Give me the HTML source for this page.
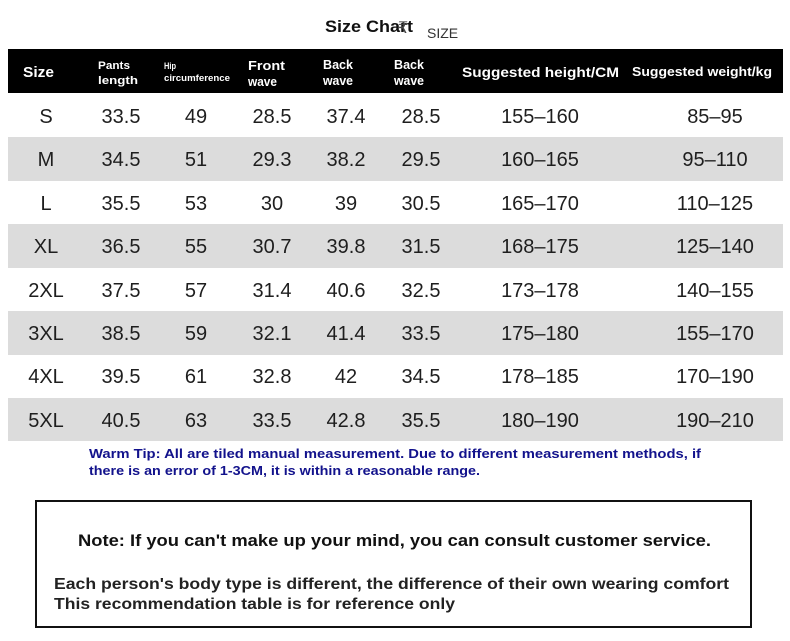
<!DOCTYPE html>
<html><head><meta charset="utf-8"><style>
html,body{margin:0;padding:0;background:#fff;}
svg{display:block;}
.n{font-family:"Liberation Sans",sans-serif;font-size:20px;fill:#1e1e1e;text-anchor:middle;}
.h{font-family:"Liberation Sans",sans-serif;font-weight:bold;fill:#fff;}
.b{font-family:"Liberation Sans",sans-serif;font-weight:bold;}
</style></head><body>
<svg width="790" height="641" viewBox="0 0 790 641">
<rect width="790" height="641" fill="#fff"/>
<text x="325" y="32" class="b" font-size="17" fill="#111" textLength="88" lengthAdjust="spacingAndGlyphs">Size Chart</text>
<text x="398" y="33" font-family="Liberation Sans" font-size="16" fill="#444">₹</text>
<text x="427" y="38" font-family="Liberation Sans" font-size="14" fill="#333">SIZE</text>
<rect x="8" y="49" width="775" height="44" fill="#000"/>
<text x="23" y="77" class="h" font-size="15" textLength="31" lengthAdjust="spacingAndGlyphs">Size</text>
<text x="98" y="69" class="h" font-size="11" textLength="32" lengthAdjust="spacingAndGlyphs">Pants</text>
<text x="98" y="84" class="h" font-size="11" textLength="40" lengthAdjust="spacingAndGlyphs">length</text>
<text x="164" y="69" class="h" font-size="9" textLength="12" lengthAdjust="spacingAndGlyphs">Hip</text>
<text x="164" y="81" class="h" font-size="9" textLength="66" lengthAdjust="spacingAndGlyphs">circumference</text>
<text x="248" y="70" class="h" font-size="13" textLength="37" lengthAdjust="spacingAndGlyphs">Front</text>
<text x="248" y="86" class="h" font-size="13" textLength="29" lengthAdjust="spacingAndGlyphs">wave</text>
<text x="323" y="69" class="h" font-size="13" textLength="30" lengthAdjust="spacingAndGlyphs">Back</text>
<text x="323" y="85" class="h" font-size="13" textLength="30" lengthAdjust="spacingAndGlyphs">wave</text>
<text x="394" y="69" class="h" font-size="13" textLength="30" lengthAdjust="spacingAndGlyphs">Back</text>
<text x="394" y="85" class="h" font-size="13" textLength="30" lengthAdjust="spacingAndGlyphs">wave</text>
<text x="462" y="77" class="h" font-size="14" textLength="157" lengthAdjust="spacingAndGlyphs">Suggested height/CM</text>
<text x="632" y="76" class="h" font-size="13" textLength="140" lengthAdjust="spacingAndGlyphs">Suggested weight/kg</text>
<rect x="8" y="137" width="775" height="44" fill="#dcdcdc"/>
<rect x="8" y="224" width="775" height="44" fill="#dcdcdc"/>
<rect x="8" y="311" width="775" height="44" fill="#dcdcdc"/>
<rect x="8" y="398" width="775" height="43" fill="#dcdcdc"/>
<g class="n">
<text x="46" y="123">S</text><text x="121" y="123">33.5</text><text x="196" y="123">49</text><text x="272" y="123">28.5</text><text x="346" y="123">37.4</text><text x="421" y="123">28.5</text><text x="540" y="123">155–160</text><text x="715" y="123">85–95</text>
<text x="46" y="166">M</text><text x="121" y="166">34.5</text><text x="196" y="166">51</text><text x="272" y="166">29.3</text><text x="346" y="166">38.2</text><text x="421" y="166">29.5</text><text x="540" y="166">160–165</text><text x="715" y="166">95–110</text>
<text x="46" y="210">L</text><text x="121" y="210">35.5</text><text x="196" y="210">53</text><text x="272" y="210">30</text><text x="346" y="210">39</text><text x="421" y="210">30.5</text><text x="540" y="210">165–170</text><text x="715" y="210">110–125</text>
<text x="46" y="253">XL</text><text x="121" y="253">36.5</text><text x="196" y="253">55</text><text x="272" y="253">30.7</text><text x="346" y="253">39.8</text><text x="421" y="253">31.5</text><text x="540" y="253">168–175</text><text x="715" y="253">125–140</text>
<text x="46" y="297">2XL</text><text x="121" y="297">37.5</text><text x="196" y="297">57</text><text x="272" y="297">31.4</text><text x="346" y="297">40.6</text><text x="421" y="297">32.5</text><text x="540" y="297">173–178</text><text x="715" y="297">140–155</text>
<text x="46" y="340">3XL</text><text x="121" y="340">38.5</text><text x="196" y="340">59</text><text x="272" y="340">32.1</text><text x="346" y="340">41.4</text><text x="421" y="340">33.5</text><text x="540" y="340">175–180</text><text x="715" y="340">155–170</text>
<text x="46" y="383">4XL</text><text x="121" y="383">39.5</text><text x="196" y="383">61</text><text x="272" y="383">32.8</text><text x="346" y="383">42</text><text x="421" y="383">34.5</text><text x="540" y="383">178–185</text><text x="715" y="383">170–190</text>
<text x="46" y="427">5XL</text><text x="121" y="427">40.5</text><text x="196" y="427">63</text><text x="272" y="427">33.5</text><text x="346" y="427">42.8</text><text x="421" y="427">35.5</text><text x="540" y="427">180–190</text><text x="715" y="427">190–210</text>
</g>
<text x="89" y="458" class="b" font-size="13" fill="#12128c" textLength="612" lengthAdjust="spacingAndGlyphs">Warm Tip: All are tiled manual measurement. Due to different measurement methods, if</text>
<text x="89" y="475" class="b" font-size="13" fill="#12128c" textLength="391" lengthAdjust="spacingAndGlyphs">there is an error of 1-3CM, it is within a reasonable range.</text>
<rect x="24" y="81" width="0" height="0"/>
<rect x="24" y="501" width="0" height="0"/>
<rect x="24.5" y="0" width="0" height="0"/>
<rect x="24" y="0" width="0" height="0"/>
<rect x="24" y="0" width="0" height="0"/>
<rect x="24" y="0" width="0" height="0"/>
<rect x="36" y="501" width="715" height="126" fill="none" stroke="#111" stroke-width="2"/>
<text x="78" y="546" class="b" font-size="17" fill="#111" textLength="633" lengthAdjust="spacingAndGlyphs">Note: If you can't make up your mind, you can consult customer service.</text>
<text x="54" y="589" class="b" font-size="16" fill="#222" textLength="675" lengthAdjust="spacingAndGlyphs">Each person's body type is different, the difference of their own wearing comfort</text>
<text x="54" y="609" class="b" font-size="16" fill="#222" textLength="401" lengthAdjust="spacingAndGlyphs">This recommendation table is for reference only</text>
</svg>
</body></html>
